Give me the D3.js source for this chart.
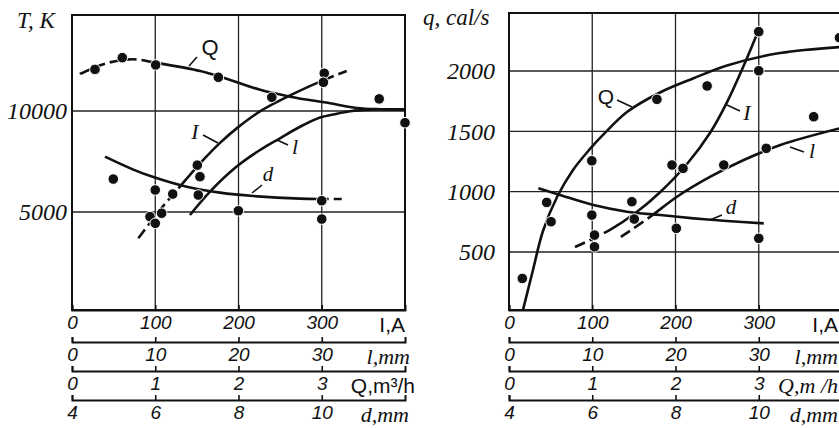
<!DOCTYPE html>
<html>
<head>
<meta charset="utf-8">
<script src="https://cdn.jsdelivr.net/npm/d3@7"></script>
<style>
  body { margin: 0; background: #fff; }
  svg { display: block; }
</style>
</head>
<body>
<div class="chart"></div>
<script>
// ---- data (I in A, T in K / q in cal/s) ----
var tDots = [[27.6,12060],[60.4,12640],[100.5,12280],[175.8,11670],[240,10680],[303,11870],[302,11420],[369,10600],[400,9420],
  [49.6,6630],[100,6090],[93.7,4770],[107.7,4940],[100,4440],[121,5890],[150.5,7320],[153.7,6750],[151.7,5840],[199.8,5060],[300,5560],[300,4650]];

var tQ = [[9.6,11830],[40,12350],[73,12560],[101.7,12380],[154,11980],[178,11700],[226,11050],[262,10710],[310,10380],[342,10150],[370,10090],[400,10080]];
var tI = [[79.7,3700],[105.7,5100],[129.7,6260],[157.7,7575],[177.8,8420],[197.8,9140],[225.8,9980],[261.9,10770],[302,11530],[330,11980]];
var tL = [[141.7,4850],[165.8,6010],[197.8,7250],[225.8,8070],[249.8,8650],[273.9,9220],[298,9680],[314,9830],[334,9990],[360,10070],[400,10080]];
var tD = [[39.6,7740],[73.6,7100],[97.7,6730],[137.8,6250],[177.8,5960],[217.8,5790],[273.9,5660],[324,5640]];

var qDots = [[300,2326],[300,2002],[238,1876],[177.7,1765],[397,2276],[366,1621],[309,1359],[99.5,1256],[45.3,911],[50.5,751],[16,281],
  [99.5,806],[102.7,640],[102.7,543],[147.6,917],[150.5,773],[195.8,1221],[209,1193],[258,1221],[201,696],[300,613]];

var qQ = [[16.8,20],[28.8,351],[40.8,674],[57.7,956],[76.9,1180],[97.3,1354],[112.9,1470],[141.7,1660],[181.4,1822],[221,1938],[261.9,2046],[325.5,2149],[400,2200]];
var qI = [[79.3,541],[121.3,683],[153.8,833],[181.4,995],[213.8,1229],[241.4,1486],[261.8,1740],[281.1,2031],[297.9,2307]];
var qL = [[134.4,625],[169.7,792],[201.8,958],[241.9,1124],[282,1262],[326,1387],[400,1530]];
var qD = [[35.3,1028],[61.4,972],[101.5,889],[141.6,834],[181.7,806],[221.8,779],[262,757],[306,737]];

var iTicks = [0, 100, 200, 300];
var lTicks = [0, 10, 20, 30];
var flowTicks = [0, 1, 2, 3];
var dTicks = [4, 6, 8, 10];
var tTicks = [5000, 10000];
var qTicks = [500, 1000, 1500, 2000];

var width = 839, height = 428;

var svg = d3.select(".chart").append("svg")
  .attr("width", width)
  .attr("height", height);

var serif = "'Liberation Serif', 'Times New Roman', serif";
var sans = "'Liberation Sans', Arial, sans-serif";

// length along a path where it reaches screen x = px (curves run left to right)
function lengthAtX(node, px) {
  var lo = 0, hi = node.getTotalLength();
  for (var k = 0; k < 30; k++) {
    var mid = (lo + hi) / 2;
    if (node.getPointAtLength(mid).x < px) lo = mid; else hi = mid;
  }
  return lo;
}

// dasharray with dashes only inside the given x ranges
function dashArray(node, x, ranges) {
  var total = node.getTotalLength();
  var cuts = [];
  ranges.forEach(function (r) {
    cuts.push({ a: lengthAtX(node, x(r[0])), b: lengthAtX(node, x(r[1])) });
  });
  var arr = [], pos = 0;
  cuts.forEach(function (c) {
    if (c.a > pos) { arr.push(c.a - pos, 0); }
    var s = c.b - Math.max(c.a, pos);
    while (s > 16) { arr.push(11, 5); s -= 16; }
    if (s > 0) arr.push(Math.min(s, 11), Math.max(s - 11, 0));
    pos = c.b;
  });
  if (total > pos) arr.push(total - pos + 5, 0);
  arr.push(0, total + 10);
  return arr.join(",");
}

function drawPanel(p) {
  var g = svg.append("g");
  var x = d3.scaleLinear().domain([0, 400]).range([p.left, p.right]);
  var y = d3.scaleLinear().domain(p.yDomain).range(p.yRange);

  // grid
  g.selectAll(".vgrid").data([100, 200, 300]).enter().append("line")
    .attr("x1", d => x(d)).attr("x2", d => x(d))
    .attr("y1", p.top).attr("y2", p.bottom)
    .attr("stroke", "#222").attr("stroke-width", 1.3);
  g.selectAll(".hgrid").data(p.yTicks).enter().append("line")
    .attr("x1", p.left).attr("x2", p.right)
    .attr("y1", d => y(d)).attr("y2", d => y(d))
    .attr("stroke", "#222").attr("stroke-width", 1.3);

  // frame
  g.append("rect")
    .attr("x", p.left).attr("y", p.top)
    .attr("width", p.right - p.left).attr("height", p.bottom - p.top)
    .attr("fill", "none").attr("stroke", "#111").attr("stroke-width", 2);

  // y tick labels
  var yAxis = g.append("g")
    .attr("transform", `translate(${p.left - p.labelGap},0)`)
    .call(d3.axisLeft(y).tickValues(p.yTicks).tickSize(0).tickPadding(0).tickFormat(d3.format("d")));
  yAxis.select(".domain").remove();
  yAxis.selectAll("text")
    .attr("font-family", serif).attr("font-style", "italic")
    .attr("font-size", 24).attr("fill", "#111");

  // y title
  g.append("text")
    .attr("x", p.titleX).attr("y", p.titleY)
    .attr("font-family", serif).attr("font-style", "italic")
    .attr("font-size", 23).attr("fill", "#111")
    .text(p.title);

  // curves
  var line = d3.line()
    .x(d => x(d[0]))
    .y(d => y(d[1]))
    .curve(d3.curveCatmullRom.alpha(0.5));
  p.curves.forEach(function (c) {
    var path = g.append("path")
      .attr("d", line(c.data))
      .attr("fill", "none")
      .attr("stroke", "#111")
      .attr("stroke-width", 2.6);
    if (c.dash) path.attr("stroke-dasharray", dashArray(path.node(), x, c.dash));
  });

  // dots
  g.selectAll(".dot").data(p.dots).enter().append("circle")
    .attr("cx", d => x(d[0]))
    .attr("cy", d => y(d[1]))
    .attr("r", 5.3)
    .attr("fill", "#111")
    .attr("stroke", "#fff")
    .attr("stroke-width", 1);

  // curve labels with leaders
  p.labels.forEach(function (l) {
    g.append("line")
      .attr("x1", l.lx1).attr("y1", l.ly1)
      .attr("x2", l.lx2).attr("y2", l.ly2)
      .attr("stroke", "#111").attr("stroke-width", 1.6);
    g.append("text")
      .attr("x", l.x).attr("y", l.y)
      .attr("text-anchor", "middle")
      .attr("font-family", l.serif ? serif : sans)
      .attr("font-style", l.serif ? "italic" : "normal")
      .attr("font-size", l.size)
      .attr("fill", "#111")
      .text(l.text);
  });

  // bottom scales: I, l, Q, d
  var rows = [
    { y: p.bottom, scale: x, ticks: iTicks, unit: "I,A", unitSerif: false },
    { y: 342, scale: d3.scaleLinear().domain([0, 40]).range([p.left, p.right]), ticks: lTicks, unit: "l,mm", unitSerif: true },
    { y: 371, scale: d3.scaleLinear().domain([0, 4]).range([p.left, p.right]), ticks: flowTicks, unit: p.flowUnit, unitSerif: p.flowSerif },
    { y: 400, scale: d3.scaleLinear().domain([4, 12]).range([p.left, p.right]), ticks: dTicks, unit: "d,mm", unitSerif: true }
  ];
  rows.forEach(function (r, i) {
    var ax = g.append("g")
      .attr("transform", `translate(0,${r.y})`)
      .call(d3.axisBottom(r.scale).tickValues(r.ticks).tickSize(-5).tickPadding(6).tickFormat(d3.format("d")));
    ax.select(".domain").attr("stroke", "#111").attr("stroke-width", 2);
    ax.selectAll(".tick line").attr("stroke", "#111").attr("stroke-width", 1.6);
    ax.selectAll("text")
      .attr("font-family", sans).attr("font-style", "italic")
      .attr("font-size", 19).attr("fill", "#111");
    g.append("text")
      .attr("x", p.unitEnd[i])
      .attr("y", r.y + 22)
      .attr("text-anchor", "end")
      .attr("font-family", r.unitSerif ? serif : sans)
      .attr("font-style", r.unitSerif ? "italic" : "normal")
      .attr("font-size", r.unitSerif ? 22 : 21)
      .attr("fill", "#111")
      .text(r.unit);
  });
}

drawPanel({
  left: 72, right: 405, top: 15, bottom: 310,
  yDomain: [5000, 10000], yRange: [212, 111], yTicks: tTicks,
  labelGap: 5, title: "T, K", titleX: 17, titleY: 28,
  flowUnit: "Q,m³/h", flowSerif: false,
  unitEnd: [405, 410, 415, 409],
  dots: tDots,
  curves: [
    { data: tQ, dash: [[9.6, 101.7]] },
    { data: tI, dash: [[79.7, 129.7], [302, 330]] },
    { data: tL },
    { data: tD, dash: [[295, 324]] }
  ],
  labels: [
    { text: "Q", x: 210, y: 55, size: 22, lx1: 197, ly1: 57, lx2: 189, ly2: 66 },
    { text: "I", x: 195, y: 139, size: 22, serif: true, lx1: 203, ly1: 135, lx2: 218, ly2: 143 },
    { text: "l", x: 295, y: 154, size: 22, serif: true, lx1: 277, ly1: 140, lx2: 288, ly2: 145 },
    { text: "d", x: 268, y: 181, size: 21, serif: true, lx1: 252, ly1: 193, lx2: 262, ly2: 185 }
  ]
});

drawPanel({
  left: 509, right: 842, top: 13, bottom: 310,
  yDomain: [500, 2000], yRange: [252, 71], yTicks: qTicks,
  labelGap: 14, title: "q, cal/s", titleX: 423, titleY: 25,
  flowUnit: "Q,m /h", flowSerif: true,
  unitEnd: [838, 838, 838, 838],
  dots: qDots,
  curves: [
    { data: qQ },
    { data: qI, dash: [[79.3, 121.3]] },
    { data: qL, dash: [[134.4, 169.7]] },
    { data: qD }
  ],
  labels: [
    { text: "Q", x: 606, y: 104, size: 21, lx1: 617, ly1: 100, lx2: 632, ly2: 107 },
    { text: "I", x: 747, y: 120, size: 22, serif: true, lx1: 727, ly1: 105, lx2: 740, ly2: 111 },
    { text: "l", x: 812, y: 158, size: 22, serif: true, lx1: 790, ly1: 147, lx2: 804, ly2: 152 },
    { text: "d", x: 731, y: 214, size: 21, serif: true, lx1: 710, ly1: 220, lx2: 722, ly2: 215 }
  ]
});
</script>
</body>
</html>
